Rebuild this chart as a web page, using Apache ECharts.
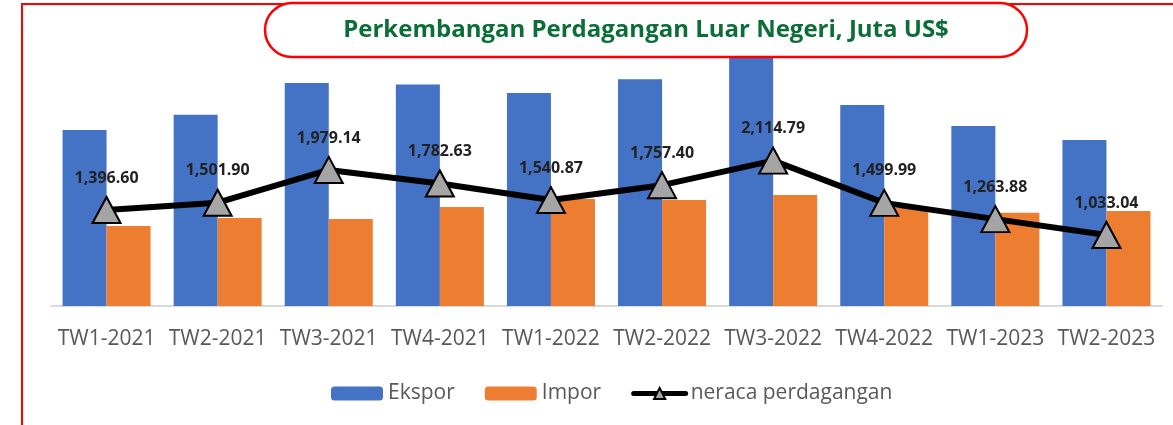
<!DOCTYPE html>
<html>
<head>
<meta charset="utf-8">
<script src="https://cdn.jsdelivr.net/npm/echarts@6/dist/echarts.min.js"></script>
<style>
  html, body { margin: 0; padding: 0; background: #fff; }
  #chart { width: 1173px; height: 425px; }
</style>
</head>
<body>
<div id="chart"></div>
<script>
const categories = ['TW1-2021', 'TW2-2021', 'TW3-2021', 'TW4-2021', 'TW1-2022',
  'TW2-2022', 'TW3-2022', 'TW4-2022', 'TW1-2023', 'TW2-2023'];
const ekspor = [2561, 2782, 3245, 3223, 3098, 3300, 3730, 2925, 2619, 2415];
const impor = [1164, 1280, 1266, 1440, 1557, 1543, 1615, 1425, 1355, 1382];
const neraca = [1396.60, 1501.90, 1979.14, 1782.63, 1540.87, 1757.40, 2114.79, 1499.99, 1263.88, 1033.04];

const fmt = new Intl.NumberFormat('en-US', { minimumFractionDigits: 2, maximumFractionDigits: 2 });
const font = '"Open Sans", "Liberation Sans", sans-serif';

const chart = echarts.init(document.getElementById('chart'));
chart.setOption({
  animation: false,
  grid: { left: 51, right: 11, top: 31, bottom: 119 },
  legend: {
    bottom: 21,
    left: 331,
    padding: 0,
    itemWidth: 52,
    itemHeight: 14,
    itemGap: 30,
    textStyle: { fontFamily: font, fontSize: 21, color: '#595959' },
    data: [
      'Ekspor',
      'Impor',
      { name: 'neraca perdagangan', lineStyle: { width: 5, cap: 'round' } },
    ],
  },
  xAxis: {
    type: 'category',
    data: categories,
    axisLine: { lineStyle: { color: '#d9d9d9', width: 2 } },
    axisTick: { show: false },
    axisLabel: { fontFamily: font, fontSize: 21, color: '#595959', margin: 23, interval: 0 },
  },
  yAxis: {
    type: 'value',
    min: 0,
    max: 4000,
    show: false,
    splitLine: { show: false },
  },
  series: [
    {
      name: 'Ekspor',
      type: 'bar',
      data: ekspor,
      barWidth: 44,
      barGap: '0%',
      itemStyle: { color: '#4472C4' },
    },
    {
      name: 'Impor',
      type: 'bar',
      data: impor,
      barWidth: 44,
      itemStyle: { color: '#ED7D31' },
    },
    {
      name: 'neraca perdagangan',
      type: 'line',
      data: neraca,
      z: 5,
      symbol: 'triangle',
      symbolSize: [28, 26],
      itemStyle: { color: '#A5A5A5', borderColor: '#000', borderWidth: 2 },
      lineStyle: { color: '#000', width: 6 },
      label: {
        show: true,
        position: 'top',
        distance: 10,
        fontFamily: font,
        fontSize: 16,
        fontWeight: 'bold',
        color: '#222',
        formatter: (p) => fmt.format(p.value),
      },
    },
  ],
  graphic: [
    {
      type: 'polyline',
      shape: { points: [[22, 425], [22, 4], [1173, 4]] },
      style: { stroke: '#ff0000', lineWidth: 2, fill: null },
      z: 10,
    },
    {
      type: 'rect',
      shape: { x: 265, y: 3, width: 762, height: 54, r: 27 },
      style: { fill: '#fff', stroke: '#ff0000', lineWidth: 2.5 },
      z: 20,
    },
    {
      type: 'text',
      style: {
        text: 'Perkembangan Perdagangan Luar Negeri, Juta US$',
        x: 646,
        y: 30,
        align: 'center',
        verticalAlign: 'middle',
        fontFamily: font,
        fontSize: 24,
        fontWeight: 'bold',
        fill: '#0B6E37',
      },
      z: 21,
    },
  ],
});
</script>
</body>
</html>
